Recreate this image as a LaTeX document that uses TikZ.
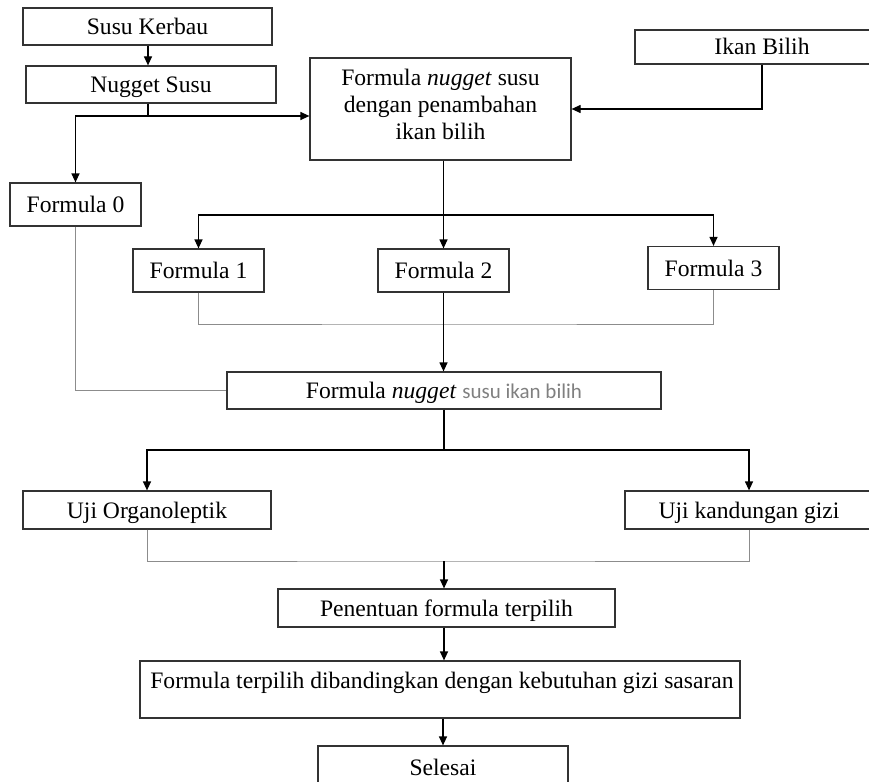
\documentclass[tikz,border=0pt]{standalone}
\usepackage{fontspec}
\setmainfont{Liberation Serif}
\newfontfamily\calib{Carlito}
\usetikzlibrary{arrows.meta}
\begin{document}
\begin{tikzpicture}[x=1pt,y=-1pt,
  boxbase/.style={draw=black!80, line width=1.2pt, inner sep=0pt, font=\fontsize{23.6}{27}\selectfont},
  box/.style={boxbase, text height=17pt, text depth=1pt},
  txt/.style={inner sep=0pt, font=\fontsize{23.6}{27}\selectfont},
  arr/.style={-{Triangle[width=8pt,length=9pt]}, line width=1.2pt},
  ln/.style={line width=1.2pt},
  gln/.style={line width=1pt, draw=black!45}]
\path[use as bounding box, clip] (0,0) rectangle (869,781);
\fill[white] (0,0) rectangle (869,781);

\node[box, minimum width=249pt, minimum height=37pt] (sk) at (147.5,26.5) {Susu Kerbau};
\node[box, minimum width=250pt, minimum height=37pt] (ns) at (151,84.5) {Nugget Susu};
\node[boxbase, minimum width=261pt, minimum height=102pt] (fb) at (440.5,109) {};
\node[txt, align=center] (fbt) at (440.5,104) {Formula \textit{nugget} susu\\dengan penambahan\\ikan bilih};
\node[box, minimum width=254pt, minimum height=34pt] (ib) at (762,47) {Ikan Bilih};

\node[box, minimum width=131pt, minimum height=43pt] (f0) at (75.5,204.5) {Formula 0};
\node[box, minimum width=131pt, minimum height=43pt] (f1) at (198.5,270.5) {Formula 1};
\node[box, minimum width=131pt, minimum height=43pt] (f2) at (443.5,270.5) {Formula 2};
\node[box, minimum width=131pt, minimum height=43pt] (f3) at (713.5,268) {Formula 3};

\node[box, minimum width=434pt, minimum height=37pt] (fn) at (444,390.5) {Formula \textit{nugget} {\calib\fontsize{21}{25}\selectfont\color{black!50}susu ikan bilih}};

\node[box, minimum width=248pt, minimum height=38pt] (uo) at (147,510) {Uji Organoleptik};
\node[box, minimum width=248pt, minimum height=38pt] (uk) at (749,510) {Uji kandungan gizi};

\node[box, minimum width=337pt, minimum height=38pt] (pf) at (446.5,608) {Penentuan formula terpilih};
\node[boxbase, minimum width=600pt, minimum height=57pt] (ftb) at (440,689.5) {};
\node[txt, text height=17pt, text depth=1pt] (ftt) at (442,680) {Formula terpilih dibandingkan dengan kebutuhan gizi sasaran};
\node[box, minimum width=250pt, minimum height=42pt] (sel) at (443,767) {Selesai};

% connectors
\draw[arr] (sk.south -| 148,0) -- (ns.north -| 148,0);
\coordinate (j1) at (148,116);
\draw[ln] (ns.south -| j1) -- (j1);
\draw[arr] (j1) -| (f0.north);
\draw[arr] (j1) -- (j1 -| fb.west);
\draw[arr] (ib.south) |- (fb.east);

\coordinate (j2) at (443,215);
\draw[arr] (fb.south -| f2) -- (f2.north);
\draw[arr] (j2) -| (f1.north);
\draw[arr] (j2) -| (f3.north);

\coordinate (j3) at (443,324);
\draw[gln] (f1.south) |- (j3) -| (f3.south);
\draw[arr] (f2.south) -- (f2.south |- fn.north);
\draw[gln] (f0.south) |- (fn.west);

\coordinate (j4) at (444,450);
\draw[ln] (fn.south) -- (j4);
\draw[arr] (j4) -| (uo.north);
\draw[arr] (j4) -| (uk.north);

\coordinate (j5) at (444,561);
\draw[gln] (uo.south) |- (j5) -| (uk.south);
\draw[arr] (j5) -- (j5 |- pf.north);
\draw[arr] (pf.south -| j5) -- (j5 |- ftb.north);
\draw[arr] (ftb.south -| sel) -- (sel.north);
\end{tikzpicture}
\end{document}
